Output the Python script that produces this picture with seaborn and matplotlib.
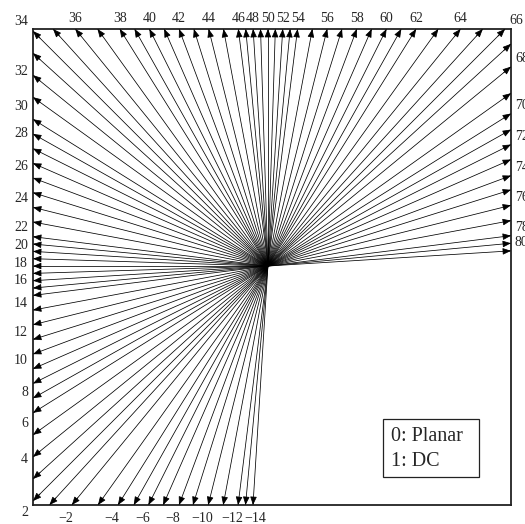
import numpy as np
import pandas as pd
import matplotlib
matplotlib.use("Agg")
import matplotlib.pyplot as plt
import seaborn as sns

# Angular intra prediction modes and their intraPredAngle values
wide_low_modes = list(range(-14, 0))
wide_low_angles = [512, 341, 256, 171, 128, 102, 86, 73, 64, 57, 51, 45, 39, 35]

hor_modes = list(range(2, 35))
hor_angles = [32, 29, 26, 23, 20, 18, 16, 14, 12, 10, 8, 6, 4, 3, 2, 1, 0,
              -1, -2, -3, -4, -6, -8, -10, -12, -14, -16, -18, -20, -23, -26, -29, -32]

ver_modes = list(range(35, 67))
ver_angles = [-29, -26, -23, -20, -18, -16, -14, -12, -10, -8, -6, -4, -3, -2, -1, 0,
              1, 2, 3, 4, 6, 8, 10, 12, 14, 16, 18, 20, 23, 26, 29, 32]

wide_high_modes = list(range(67, 81))
wide_high_angles = [35, 39, 45, 51, 57, 64, 73, 86, 102, 128, 171, 256, 341, 512]

legend_lines = ["0: Planar", "1: DC"]

sns.set_theme(style="white")
plt.rcParams["font.family"] = ["Liberation Serif", "DejaVu Serif"]

# plot frame (data units; origin at the block centre)
XL, XR, YB, YT = -0.983, 1.017, -1.0, 0.992

rows = []
for m, a in zip(wide_low_modes + hor_modes, wide_low_angles + hor_angles):
    rows.append((m, -1.0, -a / 32.0))
for m, a in zip(ver_modes + wide_high_modes, ver_angles + wide_high_angles):
    rows.append((m, a / 32.0, 1.0))

tips = []
for m, dx, dy in rows:
    cand = []
    if dx < 0:
        cand.append(XL / dx)
    if dx > 0:
        cand.append(XR / dx)
    if dy < 0:
        cand.append(YB / dy)
    if dy > 0:
        cand.append(YT / dy)
    t = min(cand)
    tips.append((m, dx * t, dy * t))
tip_df = pd.DataFrame(tips, columns=["mode", "x", "y"])

seg = pd.concat([
    pd.DataFrame({"mode": tip_df["mode"], "x": 0.0, "y": 0.0, "k": 0}),
    pd.DataFrame({"mode": tip_df["mode"], "x": tip_df["x"], "y": tip_df["y"], "k": 1}),
]).sort_values(["mode", "k"])

fig = plt.figure(figsize=(5.25, 5.24), dpi=100)
ax = fig.add_axes([33 / 525, 19 / 524, 478 / 525, 476 / 524])

sns.lineplot(data=seg, x="x", y="y", units="mode", estimator=None, sort=False,
             color="black", linewidth=0.55, ax=ax, legend=False)

for _, r in tip_df.iterrows():
    back = np.array([r.x, r.y]) * 0.97
    ax.annotate("", xy=(r.x, r.y), xytext=(back[0], back[1]),
                arrowprops=dict(arrowstyle="-|>,head_length=0.5,head_width=0.2",
                                mutation_scale=10, color="black", lw=0.55,
                                shrinkA=0, shrinkB=0))

# vertical nudges (pixels) for the labels along the left edge
left_nudge = {2: -12, 4: -3, 6: -11, 8: -9, 10: -6, 12: -8, 14: -8, 16: 0,
              18: 3, 20: 6, 22: 9, 24: 9, 26: 11, 28: 15, 30: 13, 32: 4}

PX = 0.72  # pixels -> points at 100 dpi
for _, r in tip_df.iterrows():
    m = int(r["mode"])
    if m % 2:
        continue
    txt = str(m).replace("-", "\u2212")
    if m < 0:
        off, ha, va = ((2 if m == -14 else -6), -14), "center", "center"
    elif m < 34:
        off, ha, va = (-5, left_nudge[m]), "right", "center"
    elif m == 34:
        off, ha, va = (-5, 10), "right", "center"
    elif m < 66:
        off, ha, va = (0, 10), "center", "center"
    else:
        off, ha, va = (4, 8), "left", "center"
    ax.annotate(txt, xy=(r.x, r.y), xytext=(off[0] * PX, off[1] * PX),
                textcoords="offset points", ha=ha, va=va, fontsize=10,
                annotation_clip=False)

ax.set_xlim(XL, XR)
ax.set_ylim(YB, YT)
ax.set_xticks([])
ax.set_yticks([])
ax.set_xlabel("")
ax.set_ylabel("")
for s in ax.spines.values():
    s.set_visible(True)
    s.set_color("#222222")
    s.set_linewidth(1.3)

# mode legend box
ax.add_patch(plt.Rectangle((0.732, 0.058), 0.201, 0.122, transform=ax.transAxes,
                           fill=False, edgecolor="#222222", linewidth=0.9))
for i, line in enumerate(legend_lines):
    ax.text(0.749, 0.143 - i * 0.052, line, transform=ax.transAxes,
            fontsize=14.5, ha="left", va="center")

fig.savefig("out.png", dpi=100)
